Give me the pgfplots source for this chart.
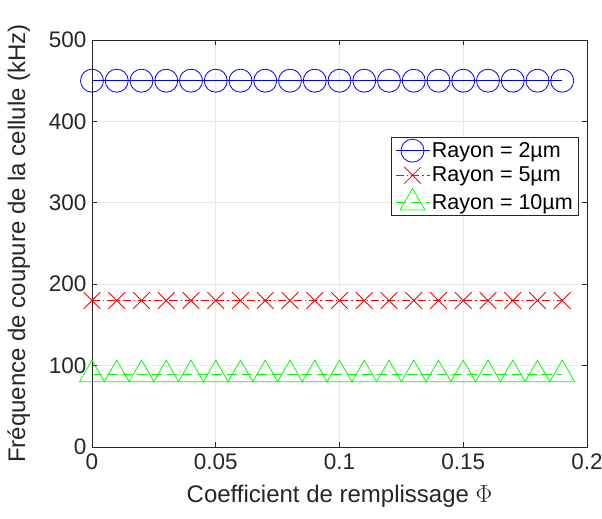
\documentclass[border=0pt]{standalone}
\usepackage{pgfplots}
\pgfplotsset{compat=1.18}
\usepackage{fontspec}
\setmainfont{Liberation Sans}
\definecolor{mblue}{RGB}{0,0,255}
\definecolor{mred}{RGB}{255,0,0}
\definecolor{mgreen}{RGB}{0,255,0}
\begin{document}
\begin{tikzpicture}
\begin{axis}[
 width=495pt, height=407pt, scale only axis,
 xmin=0, xmax=0.2, ymin=0, ymax=500,
 xtick={0,0.05,0.1,0.15,0.2}, xticklabels={0,0.05,0.1,0.15,0.2},
 ytick={0,100,200,300,400,500},
 tick align=inside, major tick length=5pt,
 grid=major, grid style={gray!18, line width=0.6pt},
 axis line style={black!85, line width=0.6pt},
 tick style={black!85, line width=0.6pt},
 ticklabel style={font=\fontsize{22.5}{26}\selectfont, text=black!85},
 xticklabel shift=3pt, yticklabel shift=2pt,
 /pgf/number format/assume math mode=true,
 xlabel={Coefficient de remplissage $\Phi$},
 ylabel={Fréquence de coupure de la cellule (kHz)},
 xlabel shift=9pt, ylabel shift=12pt,
 label style={font=\fontsize{24}{28}\selectfont, text=black!85},
 legend style={at={(0.984,0.762)}, anchor=north east, font=\fontsize{21.5}{25}\selectfont, draw=black!85, line width=0.6pt, inner xsep=4pt, inner ysep=2pt, row sep=3pt},
 legend cell align=left,
 legend image code/.code={\draw[mark repeat=2,mark phase=2,#1] plot coordinates {(0pt,0pt) (17pt,0pt) (34pt,0pt)};},
]
\addplot[color=mblue, draw=mblue, line width=0.8pt, mark=o, mark size=11.5pt, mark options={solid, line width=0.8pt, draw=mblue}] coordinates {
(0,450)(0.01,450)(0.02,450)(0.03,450)(0.04,450)(0.05,450)(0.06,450)(0.07,450)(0.08,450)(0.09,450)
(0.10,450)(0.11,450)(0.12,450)(0.13,450)(0.14,450)(0.15,450)(0.16,450)(0.17,450)(0.18,450)(0.19,450)};
\addlegendentry{Rayon = 2µm}
\addplot[color=mred, draw=mred, line width=0.8pt, dash pattern=on 8pt off 3pt on 1.5pt off 3pt, mark=x, mark size=11.7pt, mark options={solid, line width=0.8pt, draw=mred}] coordinates {
(0,180)(0.01,180)(0.02,180)(0.03,180)(0.04,180)(0.05,180)(0.06,180)(0.07,180)(0.08,180)(0.09,180)
(0.10,180)(0.11,180)(0.12,180)(0.13,180)(0.14,180)(0.15,180)(0.16,180)(0.17,180)(0.18,180)(0.19,180)};
\addlegendentry{Rayon = 5µm}
\addplot[color=mgreen, draw=mgreen, line width=0.8pt, dash pattern=on 10pt off 5pt, mark=triangle, mark size=14.4pt, mark options={solid, line width=0.8pt, draw=mgreen}] coordinates {
(0,89)(0.01,89)(0.02,89)(0.03,89)(0.04,89)(0.05,89)(0.06,89)(0.07,89)(0.08,89)(0.09,89)
(0.10,89)(0.11,89)(0.12,89)(0.13,89)(0.14,89)(0.15,89)(0.16,89)(0.17,89)(0.18,89)(0.19,89)};
\addlegendentry{Rayon = 10µm}
\end{axis}
\pgfresetboundingbox
\path ([shift={(-92pt,-72pt)}]current axis.south west) rectangle ([shift={(15pt,40pt)}]current axis.north east);
\end{tikzpicture}
\end{document}
